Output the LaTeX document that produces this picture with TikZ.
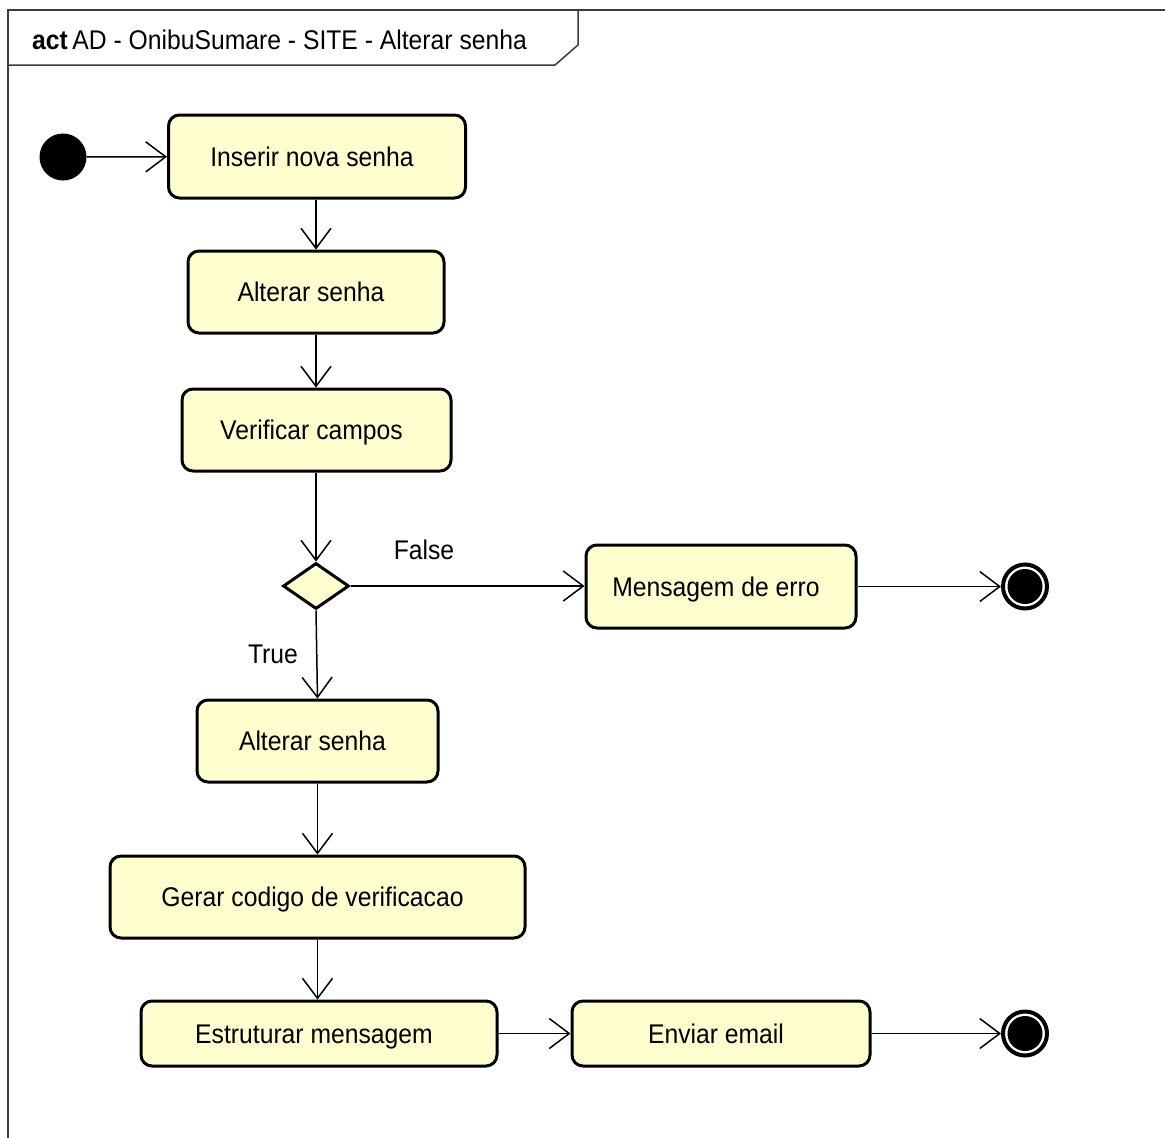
\documentclass[tikz,border=0pt]{standalone}
\usepackage{fontspec}
\setmainfont{Liberation Sans}[FakeStretch=0.915]
\usetikzlibrary{arrows.meta,shapes.geometric}
\definecolor{actfill}{RGB}{254,254,206}
\definecolor{framecol}{RGB}{60,60,60}
\begin{document}
\begin{tikzpicture}[x=1pt,y=-1pt,
  every node/.style={font=\fontsize{27}{32}\selectfont},
  action/.style={draw=black, line width=3pt, rounded corners=11pt, fill=actfill, inner sep=0pt,
    text height=19.5pt, text depth=0pt, execute at end node={\kern10pt}},
  decision/.style={diamond, draw=black, line width=3pt, fill=actfill, inner sep=0pt,
    minimum width=66pt, minimum height=46pt, aspect=1.43},
  initnode/.style={circle, fill=black, minimum size=47pt, inner sep=0pt},
  finalnode/.style={circle, draw=black, line width=4pt, fill=white, minimum size=44pt, inner sep=0pt},
  flow/.style={line width=1.5pt, -{Straight Barb[length=20pt,width=30pt,line width=1.5pt]}},
  guard/.style={inner sep=0pt}
]
% page and frame
\fill[white] (0,0) rectangle (1165,1138);
\useasboundingbox (0,0) rectangle (1165,1138);
\draw[framecol, line width=1.5pt] (1165,10) -- (8,10) -- (8,1138);
\draw[framecol, line width=1.5pt] (578,10) -- (578,45) -- (555,65) -- (8,65);
\node[anchor=west, inner sep=0pt] (title) at (32,40) {\textbf{act}\,AD - OnibuSumare - SITE - Alterar senha};

% activity nodes
\node[initnode] (start) at (63,157) {};
\node[action, minimum width=297pt, minimum height=83pt] (insert) at (317,156.5) {Inserir nova senha};
\node[action, minimum width=256pt, minimum height=82pt] (change1) at (316,292) {Alterar senha};
\node[action, minimum width=269pt, minimum height=82pt] (check) at (316.5,430) {Verificar campos};
\node[decision] (dec) at (316,586) {};
\node[action, minimum width=270pt, minimum height=83pt] (error) at (721,586.5) {Mensagem de erro};
\node[finalnode] (end1) at (1025,586.5) {};
\fill (end1.center) circle (17.5pt);
\node[action, minimum width=241pt, minimum height=82pt] (change2) at (317.5,741) {Alterar senha};
\node[action, minimum width=415pt, minimum height=82pt] (code) at (317.5,897) {Gerar codigo de verificacao};
\node[action, minimum width=356pt, minimum height=65pt] (build) at (319,1033.5) {Estruturar mensagem};
\node[action, minimum width=298pt, minimum height=65pt] (send) at (721,1033.5) {Enviar email};
\node[finalnode] (end2) at (1025,1033.5) {};
\fill (end2.center) circle (17.5pt);

% control flows
\draw[flow] (start) -- (insert);
\draw[flow] (insert.south -| change1.north) -- (change1.north);
\draw[flow] (change1) -- (check.north -| change1.south);
\draw[flow] (check.south -| dec.north) -- (dec.north);
\draw[flow] (dec.east) -- (error.west |- dec.east);
\draw[flow] (error) -- (end1);
\draw[flow] (dec.south) -- (change2.north);
\draw[flow] (change2) -- (code);
\draw[flow] (code) -- (code.south |- build.north);
\draw[flow] (build) -- (send);
\draw[flow] (send) -- (end2);

% guards
\node[guard] (gfalse) at (424,550) {False};
\node[guard] (gtrue) at (273,654) {True};
\end{tikzpicture}
\end{document}
